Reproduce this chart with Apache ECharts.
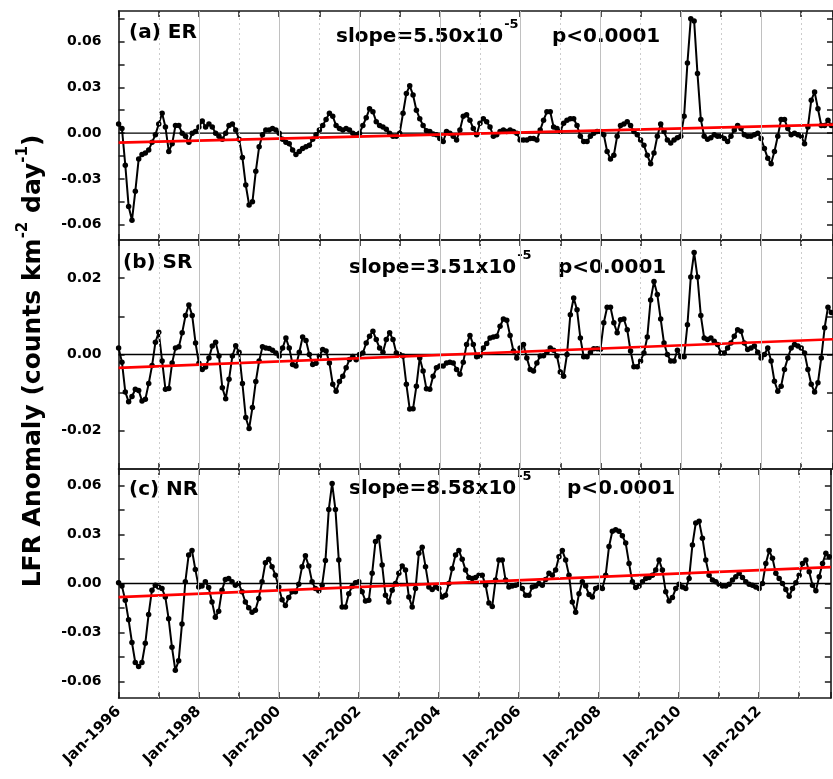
<!DOCTYPE html>
<html>
<head>
<meta charset="utf-8">
<script src="https://cdn.jsdelivr.net/npm/echarts@6/dist/echarts.min.js"></script>
<style>
  html, body { margin: 0; padding: 0; background: #fff; }
  #chart { width: 833px; height: 779px; }
</style>
</head>
<body>
<div id="chart"></div>
<script>
// Monthly LFR anomalies, index 0 = Jan-1996
const startYear = 1996;
const labelYears = [1996, 1998, 2000, 2002, 2004, 2006, 2008, 2010, 2012];

const erValues = [
  0.006, 0.003, -0.021, -0.048, -0.057, -0.038, -0.017, -0.014, -0.013, -0.011, -0.006, -0.001,
  0.006, 0.013, 0.004, -0.012, -0.007, 0.005, 0.005, 0.0, -0.002, -0.006, 0.0, 0.001,
  0.004, 0.008, 0.004, 0.006, 0.004, 0.0, -0.002, -0.004, 0.0, 0.005, 0.006, 0.002,
  -0.004, -0.016, -0.034, -0.047, -0.045, -0.025, -0.009, -0.001, 0.002, 0.002, 0.003, 0.002,
  0.0, -0.004, -0.006, -0.007, -0.011, -0.014, -0.012, -0.010, -0.009, -0.008, -0.004, -0.001,
  0.002, 0.005, 0.009, 0.013, 0.011, 0.005, 0.003, 0.002, 0.003, 0.002, 0.0, -0.001,
  0.0, 0.005, 0.010, 0.016, 0.014, 0.0075, 0.005, 0.004, 0.0025, 0.0, -0.002, -0.002,
  0.0, 0.013, 0.026, 0.031, 0.025, 0.015, 0.0095, 0.005, 0.0015, 0.001, -0.0005, -0.001,
  -0.0035, -0.0055, 0.001, 0.0, -0.002, -0.0045, 0.002, 0.011, 0.012, 0.0085, 0.003, -0.001,
  0.0065, 0.0095, 0.0075, 0.004, -0.002, -0.001, 0.001, 0.002, 0.001, 0.002, 0.001, 0.0,
  -0.0045, -0.0045, -0.0045, -0.0035, -0.0035, -0.0045, 0.002, 0.0085, 0.014, 0.014, 0.004, 0.003,
  0.001, 0.0065, 0.0085, 0.0095, 0.0095, 0.005, -0.002, -0.0055, -0.0055, -0.002, 0.0, 0.001,
  0.001, -0.001, -0.012, -0.017, -0.0145, -0.002, 0.005, 0.006, 0.0075, 0.005, 0.001, -0.001,
  -0.0045, -0.008, -0.0145, -0.020, -0.013, -0.002, 0.006, 0.001, -0.0045, -0.0065, -0.0045, -0.003,
  -0.002, 0.011, 0.046, 0.075, 0.0735, 0.039, 0.009, -0.002, -0.004, -0.003, -0.001, -0.002,
  -0.002, -0.0035, -0.0055, -0.002, 0.002, 0.005, 0.003, -0.001, -0.002, -0.002, -0.001, 0.0,
  -0.0035, -0.010, -0.0165, -0.020, -0.012, -0.002, 0.009, 0.009, 0.003, -0.001, 0.0, -0.001,
  -0.002, -0.007, 0.004, 0.0215, 0.027, 0.016, 0.005, 0.005, 0.0085, 0.005
];

const srValues = [
  0.0017, -0.002, -0.0098, -0.0124, -0.011, -0.0091, -0.0094, -0.0122, -0.0117, -0.0076, -0.0029, 0.0032,
  0.0058, -0.0017, -0.0091, -0.0089, -0.0022, 0.0017, 0.002, 0.0057, 0.0102, 0.013, 0.0102, 0.003,
  -0.0023, -0.0039, -0.0033, -0.0009, 0.0022, 0.0032, -0.0004, -0.0087, -0.0116, -0.0065, -0.0004, 0.0023,
  0.0006, -0.0076, -0.0165, -0.0194, -0.0139, -0.0071, -0.0017, 0.002, 0.0017, 0.0016, 0.0011, 0.0004,
  -0.0004, 0.0017, 0.0043, 0.0017, -0.0026, -0.003, 0.0006, 0.0046, 0.0037, 0.0, -0.0026, -0.0023,
  -0.0004, 0.0013, 0.0009, -0.0022, -0.0078, -0.0096, -0.0071, -0.0057, -0.0035, -0.0013, -0.0005, -0.0014,
  0.0, 0.0004, 0.003, 0.0048, 0.0061, 0.0039, 0.0017, 0.0006, 0.0039, 0.0057, 0.0039, 0.0004,
  0.0, -0.0004, -0.0078, -0.0143, -0.0142, -0.0083, -0.0009, -0.0043, -0.009, -0.0091, -0.0057, -0.0035,
  -0.003, -0.003, -0.0022, -0.002, -0.0022, -0.0039, -0.0052, -0.002, 0.0026, 0.005, 0.0026, -0.0006,
  -0.0004, 0.0017, 0.0029, 0.0043, 0.0046, 0.0048, 0.0074, 0.0093, 0.009, 0.005, 0.0009, -0.0009,
  0.0017, 0.0026, -0.0009, -0.0039, -0.0043, -0.0022, -0.0004, -0.0003, 0.0006, 0.0017, 0.0011, -0.0004,
  -0.0046, -0.0057, 0.0, 0.0104, 0.0148, 0.0117, 0.0043, -0.0006, -0.0006, 0.0005, 0.0015, 0.0015,
  0.0014, 0.0083, 0.0124, 0.0124, 0.0083, 0.0057, 0.0091, 0.0093, 0.0065, 0.0009, -0.0032, -0.0032,
  -0.0017, 0.0004, 0.0046, 0.0143, 0.0191, 0.0157, 0.0093, 0.003, 0.0, -0.0017, -0.0017, 0.0011,
  -0.0006, -0.0006, 0.0078, 0.0203, 0.0267, 0.0203, 0.0102, 0.0043, 0.0039, 0.0043, 0.0035, 0.0026,
  0.0004, 0.0004, 0.0017, 0.003, 0.0048, 0.0065, 0.0061, 0.003, 0.0013, 0.0017, 0.0022, 0.0006,
  -0.0009, 0.0, 0.0017, -0.0017, -0.007, -0.0096, -0.0083, -0.0039, -0.0009, 0.0017, 0.0026, 0.0022,
  0.0017, 0.0004, -0.0039, -0.0078, -0.0098, -0.0074, -0.0009, 0.007, 0.0124, 0.011
];

const nrValues = [
  0.0004, -0.0016, -0.0103, -0.0222, -0.036, -0.0483, -0.0508, -0.0483, -0.0366, -0.0189, -0.0041, -0.001,
  -0.0021, -0.0031, -0.0082, -0.0216, -0.039, -0.053, -0.0473, -0.0247, 0.001, 0.0175, 0.0201, 0.0086,
  -0.0021, -0.0016, 0.001, -0.0025, -0.0113, -0.0206, -0.0169, -0.0041, 0.0025, 0.0031, 0.001, -0.001,
  0.0, -0.0051, -0.0113, -0.0148, -0.0175, -0.0164, -0.0092, 0.001, 0.0127, 0.0148, 0.0103, 0.0051,
  -0.0021, -0.0099, -0.0134, -0.0086, -0.0051, -0.0051, -0.0004, 0.0103, 0.0169, 0.0107, 0.001, -0.0031,
  -0.0045, -0.001, 0.014, 0.0452, 0.0612, 0.0452, 0.0144, -0.0144, -0.0144, -0.0062, -0.0018, 0.0004,
  0.001, -0.0051, -0.0107, -0.0103, 0.0062, 0.0257, 0.0284, 0.0113, -0.0072, -0.0113, -0.0041, 0.0,
  0.0062, 0.0107, 0.0082, -0.0082, -0.0144, -0.0031, 0.0185, 0.0222, 0.0103, -0.0021, -0.0037, -0.0021,
  -0.0031, -0.0082, -0.0072, 0.0, 0.0092, 0.0175, 0.0201, 0.0148, 0.0082, 0.0037, 0.0031, 0.0037,
  0.0051, 0.0051, -0.001, -0.0119, -0.014, 0.0021, 0.0144, 0.0144, 0.0021, -0.0021, -0.0016, -0.001,
  -0.0004, -0.0031, -0.0072, -0.0072, -0.0021, -0.0016, 0.0, -0.001, 0.0025, 0.0062, 0.0051, 0.0082,
  0.0164, 0.0201, 0.0144, 0.0051, -0.0113, -0.0175, -0.0062, 0.001, -0.0016, -0.0067, -0.0082, -0.0031,
  -0.0021, -0.0031, 0.0051, 0.0226, 0.0319, 0.0329, 0.0319, 0.0292, 0.0247, 0.0123, 0.001, -0.0025,
  -0.0016, 0.001, 0.0031, 0.0037, 0.0051, 0.0082, 0.0144, 0.0082, -0.0051, -0.0107, -0.0086, -0.0031,
  -0.0004, -0.0021, -0.0031, 0.0031, 0.0236, 0.037, 0.038, 0.0277, 0.0144, 0.0051, 0.0021, 0.001,
  -0.0004, -0.0016, -0.0016, -0.0004, 0.0021, 0.0041, 0.0062, 0.0037, 0.001, -0.0004, -0.001, -0.0021,
  -0.0031, 0.0, 0.0123, 0.0201, 0.0154, 0.0062, 0.0031, 0.0, -0.0037, -0.0078, -0.0031, 0.0004,
  0.0051, 0.0123, 0.0144, 0.0072, -0.001, -0.0045, 0.0041, 0.0123, 0.0185, 0.0164
];

// Linear trends (per month) and their value at Jan-1996
const trendSlopes = [5.50e-5, 3.51e-5, 8.58e-5];
const trendStarts = [-0.0062, -0.0035, -0.0083];
const slopeLabels = ['5.50', '3.51', '8.58'];
const pLabel = 'p<0.0001';
const panelNames = ['(a) ER', '(b) SR', '(c) NR'];

// Y ranges, labelled values and tick positions per panel
const yRanges = [[-0.07, 0.08], [-0.03, 0.03], [-0.07, 0.07]];
const yLabelValues = [
  [-0.06, -0.03, 0, 0.03, 0.06],
  [-0.02, 0, 0.02],
  [-0.06, -0.03, 0, 0.03, 0.06]
];
const yTickValues = [
  [-0.06, -0.045, -0.03, -0.015, 0, 0.015, 0.03, 0.045, 0.06, 0.075],
  [-0.02, -0.01, 0, 0.01, 0.02],
  [-0.06, -0.045, -0.03, -0.015, 0, 0.015, 0.03, 0.045, 0.06]
];

const seriesValues = [erValues, srValues, nrValues];
const xMax = 213.5;          // months shown on the time axis
const gridTops = [11, 240, 469];
const gridHeight = 229;
const gridLeft = 118.6;
const FONT = '"DejaVu Sans", "Liberation Sans", Arial, sans-serif';

// Year boundaries inside the plot: even years solid, odd years dotted
const yearMarks = [];
for (let m = 12; m < xMax; m += 12) yearMarks.push(m);

const chart = echarts.init(document.getElementById('chart'), null, { renderer: 'canvas' });

const grids = [], xAxes = [], yAxes = [], series = [];

const axisLineStyle = { color: '#1a1a1a', width: 1.6 };
const tickStyle = { color: '#1a1a1a', width: 1.5 };

gridTops.forEach((top, i) => {
  grids.push({ left: gridLeft, right: 0, top: top, height: gridHeight, containLabel: false });
  const isLast = i === gridTops.length - 1;
  // bottom time axis
  xAxes.push({
    type: 'value', gridIndex: i, position: 'bottom', min: 0, max: xMax, interval: 12,
    axisLine: { show: true, onZero: false, lineStyle: axisLineStyle },
    axisTick: { show: true, inside: true, length: 6, lineStyle: tickStyle },
    splitLine: { show: false },
    axisLabel: {
      show: isLast, rotate: 45, margin: 11, color: '#000',
      fontFamily: FONT, fontWeight: 'bold', fontSize: 15,
      formatter: v => (v % 24 === 0 && labelYears.includes(startYear + v / 12)) ? 'Jan-' + (startYear + v / 12) : ''
    }
  });
  // top time axis (frame with ticks)
  xAxes.push({
    type: 'value', gridIndex: i, position: 'top', min: 0, max: xMax, interval: 12,
    axisLine: { show: true, onZero: false, lineStyle: axisLineStyle },
    axisTick: { show: true, inside: true, length: 6, lineStyle: tickStyle },
    splitLine: { show: false }, axisLabel: { show: false }
  });
  // left value axis
  yAxes.push({
    type: 'value', gridIndex: i, position: 'left', min: yRanges[i][0], max: yRanges[i][1],
    axisLine: { show: true, onZero: false, lineStyle: axisLineStyle },
    axisTick: { show: true, inside: true, length: 6, lineStyle: tickStyle, customValues: yTickValues[i] },
    splitLine: { show: false },
    axisLabel: {
      show: true, margin: 17, color: '#000', fontFamily: FONT, fontWeight: 'bold', fontSize: 14,
      customValues: yLabelValues[i], formatter: v => v.toFixed(2)
    }
  });
  // right value axis (mirror)
  yAxes.push({
    type: 'value', gridIndex: i, position: 'right', min: yRanges[i][0], max: yRanges[i][1],
    axisLine: { show: true, onZero: false, lineStyle: axisLineStyle },
    axisTick: { show: true, inside: true, length: 6, lineStyle: tickStyle, customValues: yTickValues[i] },
    splitLine: { show: false }, axisLabel: { show: false }
  });

  const xi = i * 2, yi = i * 2;

  // zero line, carrying the yearly grid lines
  series.push({
    type: 'line', xAxisIndex: xi, yAxisIndex: yi, z: 1, silent: true,
    data: [[0, 0], [xMax, 0]], symbol: 'none',
    lineStyle: { color: '#000', width: 1.4 },
    markLine: {
      silent: true, symbol: 'none', label: { show: false }, animation: false,
      data: yearMarks.map(m => ({
        xAxis: m,
        lineStyle: m % 24 === 0
          ? { color: '#c0c0c0', width: 1, type: 'solid' }
          : { color: '#cccccc', width: 1, type: [2, 3] }
      }))
    }
  });

  // monthly anomalies
  series.push({
    type: 'line', xAxisIndex: xi, yAxisIndex: yi, z: 2,
    data: seriesValues[i].map((v, m) => [m, v]),
    symbol: 'circle', symbolSize: 5.5,
    itemStyle: { color: '#000' },
    lineStyle: { color: '#000', width: 2 }
  });

  // linear trend
  series.push({
    type: 'line', xAxisIndex: xi, yAxisIndex: yi, z: 3, silent: true,
    data: [[0, trendStarts[i]], [xMax, trendStarts[i] + trendSlopes[i] * xMax]],
    symbol: 'none',
    lineStyle: { color: '#ff0000', width: 2.6 }
  });
});

// Text measuring for placing superscripts
const measureCtx = document.createElement('canvas').getContext('2d');
function textWidth(str, size) {
  measureCtx.font = 'bold ' + size + 'px ' + FONT;
  return measureCtx.measureText(str).width;
}

const MAIN_SIZE = 20, SUP_SIZE = 13;
function txt(text, x, y, size) {
  return {
    type: 'text', x: x, y: y, silent: true,
    style: { text: text, fill: '#000', font: 'bold ' + size + 'px ' + FONT, align: 'left', verticalAlign: 'middle' }
  };
}

const graphics = [];
const panelTextPos = [
  { name: [129, 32.5], slope: [336, 36.5], p: [552, 36.5] },
  { name: [123, 262.5], slope: [349, 267.5], p: [558, 267.5] },
  { name: [129, 490], slope: [349, 489], p: [567, 489] }
];
panelTextPos.forEach((pos, i) => {
  graphics.push(txt(panelNames[i], pos.name[0], pos.name[1], MAIN_SIZE));
  const slopeMain = 'slope=' + slopeLabels[i] + 'x10';
  graphics.push(txt(slopeMain, pos.slope[0], pos.slope[1], MAIN_SIZE));
  graphics.push(txt('-5', pos.slope[0] + textWidth(slopeMain, MAIN_SIZE) + 1, pos.slope[1] - 12, SUP_SIZE));
  graphics.push(txt(pLabel, pos.p[0], pos.p[1], MAIN_SIZE));
});

// Rotated y-axis title with superscripts
const TITLE_SIZE = 25, TITLE_SUP = 15;
const titleParts = [
  ['LFR Anomaly (counts km', false], ['-2', true], [' day', false], ['-1', true], [')', false]
];
let totalW = 0;
titleParts.forEach(p => { totalW += textWidth(p[0], p[1] ? TITLE_SUP : TITLE_SIZE); });
let cx = -totalW / 2;
const titleChildren = [];
titleParts.forEach(p => {
  const size = p[1] ? TITLE_SUP : TITLE_SIZE;
  titleChildren.push(txt(p[0], cx, p[1] ? -10 : 0, size));
  cx += textWidth(p[0], size);
});
graphics.push({ type: 'group', x: 33, y: 361, rotation: Math.PI / 2, silent: true, children: titleChildren });

chart.setOption({
  animation: false,
  backgroundColor: '#fff',
  grid: grids,
  xAxis: xAxes,
  yAxis: yAxes,
  series: series,
  graphic: graphics
});
</script>
</body>
</html>
